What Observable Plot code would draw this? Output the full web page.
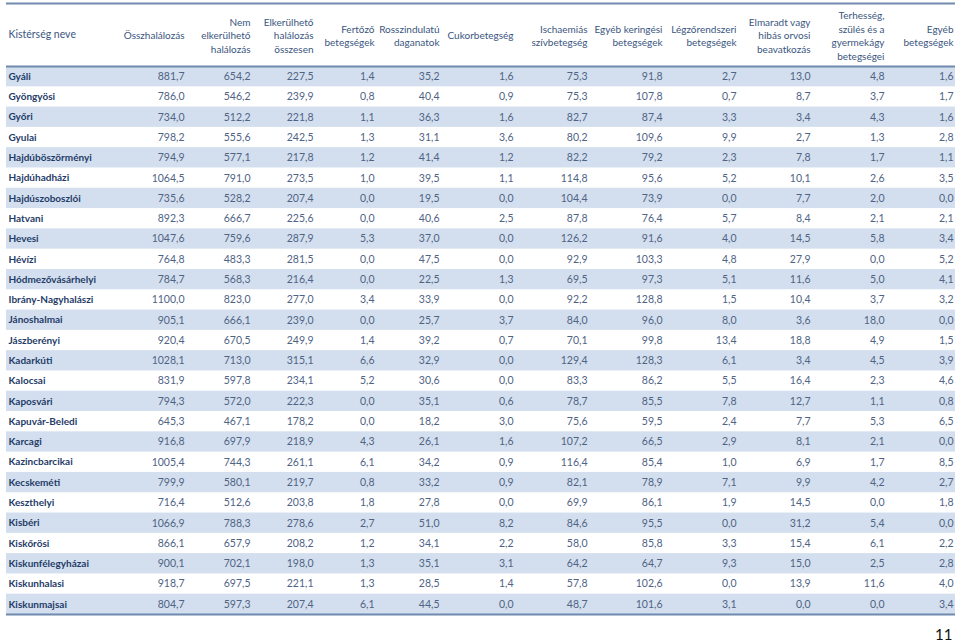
<!DOCTYPE html>
<html>
<head>
<meta charset="utf-8">
<script src="https://cdn.jsdelivr.net/npm/d3@7"></script>
<script src="https://cdn.jsdelivr.net/npm/@observablehq/plot@0.6"></script>
<style>
  html, body { margin: 0; padding: 0; background: #fff; overflow: hidden; }
  #chart svg { display: block; }
</style>
</head>
<body>
<div id="chart"></div>
<script>
// ---- data ----
const kisterseg = ["Gyáli","Gyöngyösi","Győri","Gyulai","Hajdúböszörményi","Hajdúhadházi","Hajdúszoboszlói","Hatvani","Hevesi","Hévízi","Hódmezővásárhelyi","Ibrány-Nagyhalászi","Jánoshalmai","Jászberényi","Kadarkúti","Kalocsai","Kaposvári","Kapuvár-Beledi","Karcagi","Kazincbarcikai","Kecskeméti","Keszthelyi","Kisbéri","Kiskőrösi","Kiskunfélegyházai","Kiskunhalasi","Kiskunmajsai"];

const osszhalalozas   = [881.7,786.0,734.0,798.2,794.9,1064.5,735.6,892.3,1047.6,764.8,784.7,1100.0,905.1,920.4,1028.1,831.9,794.3,645.3,916.8,1005.4,799.9,716.4,1066.9,866.1,900.1,918.7,804.7];
const nemElkerulheto  = [654.2,546.2,512.2,555.6,577.1,791.0,528.2,666.7,759.6,483.3,568.3,823.0,666.1,670.5,713.0,597.8,572.0,467.1,697.9,744.3,580.1,512.6,788.3,657.9,702.1,697.5,597.3];
const elkerulheto     = [227.5,239.9,221.8,242.5,217.8,273.5,207.4,225.6,287.9,281.5,216.4,277.0,239.0,249.9,315.1,234.1,222.3,178.2,218.9,261.1,219.7,203.8,278.6,208.2,198.0,221.1,207.4];
const fertozo         = [1.4,0.8,1.1,1.3,1.2,1.0,0.0,0.0,5.3,0.0,0.0,3.4,0.0,1.4,6.6,5.2,0.0,0.0,4.3,6.1,0.8,1.8,2.7,1.2,1.3,1.3,6.1];
const rosszindulatu   = [35.2,40.4,36.3,31.1,41.4,39.5,19.5,40.6,37.0,47.5,22.5,33.9,25.7,39.2,32.9,30.6,35.1,18.2,26.1,34.2,33.2,27.8,51.0,34.1,35.1,28.5,44.5];
const cukor           = [1.6,0.9,1.6,3.6,1.2,1.1,0.0,2.5,0.0,0.0,1.3,0.0,3.7,0.7,0.0,0.0,0.6,3.0,1.6,0.9,0.9,0.0,8.2,2.2,3.1,1.4,0.0];
const ischaemias      = [75.3,75.3,82.7,80.2,82.2,114.8,104.4,87.8,126.2,92.9,69.5,92.2,84.0,70.1,129.4,83.3,78.7,75.6,107.2,116.4,82.1,69.9,84.6,58.0,64.2,57.8,48.7];
const egyebKeringesi  = [91.8,107.8,87.4,109.6,79.2,95.6,73.9,76.4,91.6,103.3,97.3,128.8,96.0,99.8,128.3,86.2,85.5,59.5,66.5,85.4,78.9,86.1,95.5,85.8,64.7,102.6,101.6];
const legzorendszeri  = [2.7,0.7,3.3,9.9,2.3,5.2,0.0,5.7,4.0,4.8,5.1,1.5,8.0,13.4,6.1,5.5,7.8,2.4,2.9,1.0,7.1,1.9,0.0,3.3,9.3,0.0,3.1];
const elmaradt        = [13.0,8.7,3.4,2.7,7.8,10.1,7.7,8.4,14.5,27.9,11.6,10.4,3.6,18.8,3.4,16.4,12.7,7.7,8.1,6.9,9.9,14.5,31.2,15.4,15.0,13.9,0.0];
const terhesseg       = [4.8,3.7,4.3,1.3,1.7,2.6,2.0,2.1,5.8,0.0,5.0,3.7,18.0,4.9,4.5,2.3,1.1,5.3,2.1,1.7,4.2,0.0,5.4,6.1,2.5,11.6,0.0];
const egyeb           = [1.6,1.7,1.6,2.8,1.1,3.5,0.0,2.1,3.4,5.2,4.1,3.2,0.0,1.5,3.9,4.6,0.8,6.5,0.0,8.5,2.7,1.8,0.0,2.2,2.8,4.0,3.4];

const fejlec = [
  "Összhalálozás",
  "Nem\nelkerülhető\nhalálozás",
  "Elkerülhető\nhalálozás\nösszesen",
  "Fertőző\nbetegségek",
  "Rosszindulatú\ndaganatok",
  "Cukorbetegség",
  "Ischaemiás\nszívbetegség",
  "Egyéb keringési\nbetegségek",
  "Légzőrendszeri\nbetegségek",
  "Elmaradt vagy\nhibás orvosi\nbeavatkozás",
  "Terhesség,\nszülés és a\ngyermekágy\nbetegségei",
  "Egyéb\nbetegségek"
];
const elsoFejlec = "Kistérség neve";
const oldalszam = "11";

const oszlopok = [osszhalalozas, nemElkerulheto, elkerulheto, fertozo, rosszindulatu, cukor, ischaemias, egyebKeringesi, legzorendszeri, elmaradt, terhesseg, egyeb];

// ---- layout (not data) ----
const colRight = [184, 250, 313, 374, 439, 513, 587, 662, 736, 810, 884, 953];
const nameX = 8;
const tableLeft = 6, tableRight = 955;
const headerRows = 3.1;

// ---- derived tables ----
const rows = kisterseg.map((name, i) => ({name, i}));
const cells = [];
oszlopok.forEach((col, j) => col.forEach((v, i) => cells.push({i, j, v})));
const heads = fejlec.map((t, j) => ({t, j}));
const fmt = v => v.toFixed(1).replace(".", ",");
const n = kisterseg.length;

const chart = Plot.plot({
  width: 960,
  height: 641,
  margin: 0,
  style: {fontFamily: "Lato, 'Open Sans', sans-serif", fontSize: "10px", background: "#fff", overflow: "visible"},
  x: {type: "linear", domain: [0, 960], range: [0, 960], axis: null},
  y: {type: "linear", domain: [0, n], range: [66, 614], axis: null},
  marks: [
    Plot.rect(rows.filter(d => d.i % 2 === 0), {
      x1: tableLeft, x2: tableRight, y1: d => d.i, y2: d => d.i + 1, fill: "#D3DFEE"
    }),
    Plot.ruleY([-headerRows, 0, n], {x1: tableLeft, x2: tableRight, stroke: "#7089AE", strokeWidth: 2}),
    Plot.text([elsoFejlec], {
      x: nameX, y: -headerRows / 2, text: d => d, textAnchor: "start",
      fill: "#3A5680", fontSize: 10.5
    }),
    Plot.text(heads, {
      x: d => colRight[d.j], y: -headerRows / 2, text: "t", textAnchor: "end",
      lineAnchor: "middle", lineHeight: 1.35, fill: "#3A5680", fontSize: 10
    }),
    Plot.text(rows, {
      x: nameX, y: d => d.i + 0.5, text: "name", textAnchor: "start",
      fontWeight: "bold", fill: "#1F3C68", fontSize: 10
    }),
    Plot.text(cells, {
      x: d => colRight[d.j], y: d => d.i + 0.5, text: d => fmt(d.v), textAnchor: "end",
      fill: "#4F6385", fontSize: 10.5
    }),
    Plot.text([oldalszam], {
      frameAnchor: "bottom-right", text: d => d, dx: -8, dy: -2, lineAnchor: "bottom",
      fill: "#111", fontSize: 15
    })
  ]
});
document.getElementById("chart").appendChild(chart);
</script>
</body>
</html>
